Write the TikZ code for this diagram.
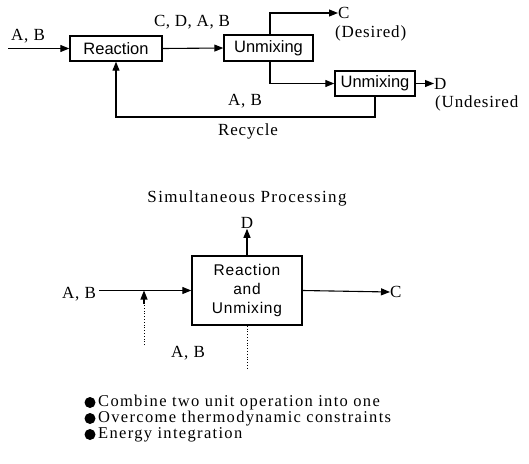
\documentclass[tikz,border=0pt]{standalone}
\usepackage{fontspec}
\setmainfont{Liberation Serif}
\setsansfont{Liberation Sans}
\usetikzlibrary{arrows.meta}
\newcommand{\lblfont}[1]{\addfontfeatures{LetterSpace=#1}\fontsize{17}{19}\selectfont}
\begin{document}
\begin{tikzpicture}[x=1pt,y=-1pt,
  lbl/.style={inner sep=0pt,font=\lblfont{5}},
  bul/.style={inner sep=0pt,anchor=west,font=\addfontfeatures{LetterSpace=8}\fontsize{16.5}{19}\selectfont},
  boxtxt/.style={draw,line width=1.4pt,inner sep=0pt,font=\sffamily\fontsize{16.5}{18}\selectfont,align=center},
  flow/.style={line width=1.1pt,-{Triangle[length=9pt,width=7pt]}},
  dotline/.style={line width=0.8pt,dotted},
  dot/.style={circle,fill,inner sep=0pt,minimum size=11pt}]
\useasboundingbox (0,0) rectangle (529,463);
% --- top: sequential processing ---
\node[boxtxt,minimum width=92pt,minimum height=25pt] (rx) at (116,48.5) {Reaction};
\node[boxtxt,minimum width=89pt,minimum height=26pt] (u1) at (268.5,48) {Unmixing};
\node[boxtxt,minimum width=80pt,minimum height=25pt] (u2) at (375,83.5) {Unmixing};
\node[lbl] (ab0) at (28,36) {A, B};
\coordinate (in0) at (8,48.5);
\node[lbl,font=\lblfont{3}] (cdab) at (192,22) {C, D, A, B};
\node[lbl,anchor=west] (c1) at (338,13) {C};
\node[lbl,anchor=west] (des) at (335,33) {(Desired)};
\node[lbl,anchor=west] (d1) at (434,83.5) {D};
\node[lbl,anchor=west] (und) at (435,103) {(Undesired};
\node[lbl] (ab1) at (245,101) {A, B};
\node[lbl] (rec) at (248,131) {Recycle};
\coordinate (ctop) at (270,13);
\coordinate (u1b) at (270,61);
\coordinate (u1c) at (270,83.5);
\coordinate (r1) at (375,117);
\coordinate (r2) at (116,117);
\draw[flow] (in0) -- (rx.west);
\draw[flow] (rx.east) -- (u1.west);
\draw[flow] (u1.north -| ctop) -- (ctop) -- (c1.west);
\draw[flow] (u1b) -- (u1c) -- (u2.west);
\draw[flow] (u2.east) -- (d1.west);
\draw[flow] (u2.south) -- (r1) -- (r2) -- (rx.south);
% --- bottom: simultaneous processing ---
\node[lbl,font=\lblfont{8}] (sim) at (247,198) {Simultaneous Processing};
\node[boxtxt,minimum width=110pt,minimum height=69pt,font=\sffamily\addfontfeatures{LetterSpace=5}\fontsize{15.5}{19}\selectfont] (rb) at (247,290.5) {Reaction\\and\\Unmixing};
\node[lbl] (d2) at (247,223) {D};
\node[lbl,anchor=west] (c2) at (390,292) {C};
\node[lbl] (ab2) at (79,294) {A, B};
\node[lbl] (ab3) at (188,353) {A, B};
\coordinate (in2) at (99,290.5);
\coordinate (jn) at (144,290.5);
\coordinate (feed) at (144,345);
\coordinate (bot) at (247,370);
\draw[flow] (rb.north) -- (d2.south);
\draw[flow] (in2) -- (rb.west);
\draw[flow] (rb.east) -- (c2.west);
\draw[dotline] (feed) -- (144,304);
\draw[flow] (144,304) -- (jn);
\draw[dotline] (rb.south) -- (bot);
% --- bullets ---
\node[dot] (b1) at (90,402.5) {};
\node[dot] (b2) at (90,418.5) {};
\node[dot] (b3) at (90,434.5) {};
\node[bul] (t1) at (98,402.5) {Combine two unit operation into one};
\node[bul] (t2) at (98,418.5) {Overcome thermodynamic constraints};
\node[bul] (t3) at (98,434.5) {Energy integration};
\end{tikzpicture}
\end{document}
